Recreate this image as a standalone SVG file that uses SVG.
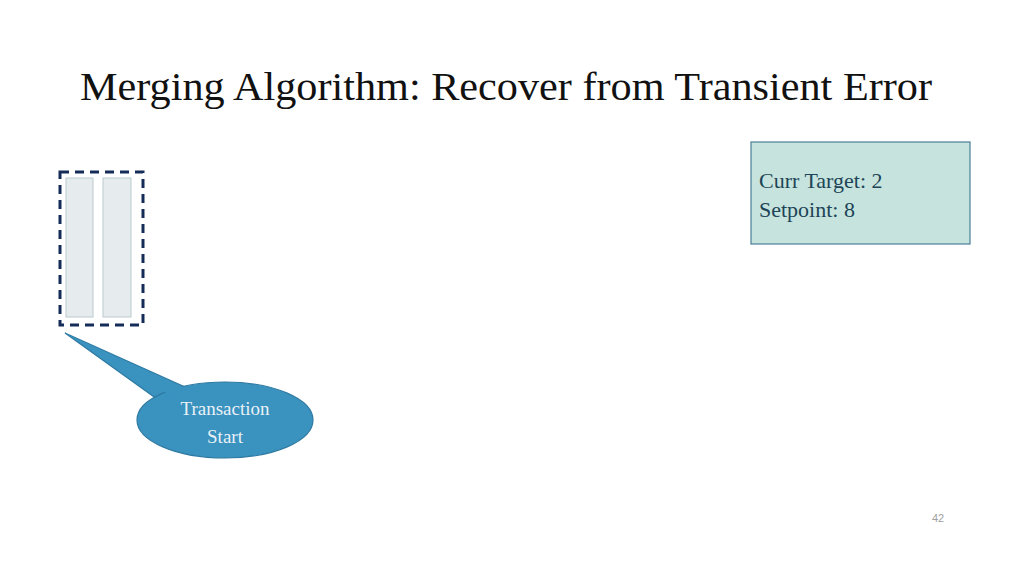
<svg xmlns="http://www.w3.org/2000/svg" width="1024" height="576" viewBox="0 0 1024 576">
<style>
.title{font-family:"Liberation Serif",serif;font-size:40px;fill:#111}
.bar{fill:#e6ecee;stroke:#b9c9cc;stroke-width:1}
.lbl{font-family:"Liberation Serif",serif;font-size:19px;fill:#e9f1f6;text-anchor:middle}
.box{font-family:"Liberation Serif",serif;font-size:22px;fill:#1d4457}
.fillc{fill:#3a92bf}
</style>
<rect width="1024" height="576" fill="#ffffff"/>
<text class="title" x="80" y="100" textLength="852" lengthAdjust="spacingAndGlyphs">Merging Algorithm: Recover from Transient Error</text>
<g id="transaction">
<rect class="bar" x="66" y="178" width="27" height="139"/>
<rect class="bar" x="103" y="178" width="28" height="139"/>
<rect x="60" y="172" width="83" height="153" fill="none" stroke="#142c57" stroke-width="3" stroke-dasharray="9,6"/>
</g>
<g id="callout">
<polygon class="fillc" points="65,333 185,387 157,399" stroke="#2e7aa2" stroke-width="1.2"/>
<ellipse class="fillc" cx="225" cy="420" rx="88" ry="38" stroke="#2e7aa2" stroke-width="1.2"/>
<polygon class="fillc" points="66,334 186,388.5 158,400.5 175,398"/>
<text class="lbl" x="225" y="415">Transaction</text>
<text class="lbl" x="225" y="443">Start</text>
</g>
<g id="status">
<rect x="751" y="142" width="219" height="102" fill="#c6e4dd" stroke="#4a7f99" stroke-width="1.2"/>
<text class="box" x="759" y="188">Curr Target: 2</text>
<text class="box" x="759" y="217">Setpoint: 8</text>
</g>
<g id="connectors"></g>
<text x="938" y="522" font-family="Liberation Sans,sans-serif" font-size="11" fill="#a0a0a0" text-anchor="middle">42</text>
</svg>
